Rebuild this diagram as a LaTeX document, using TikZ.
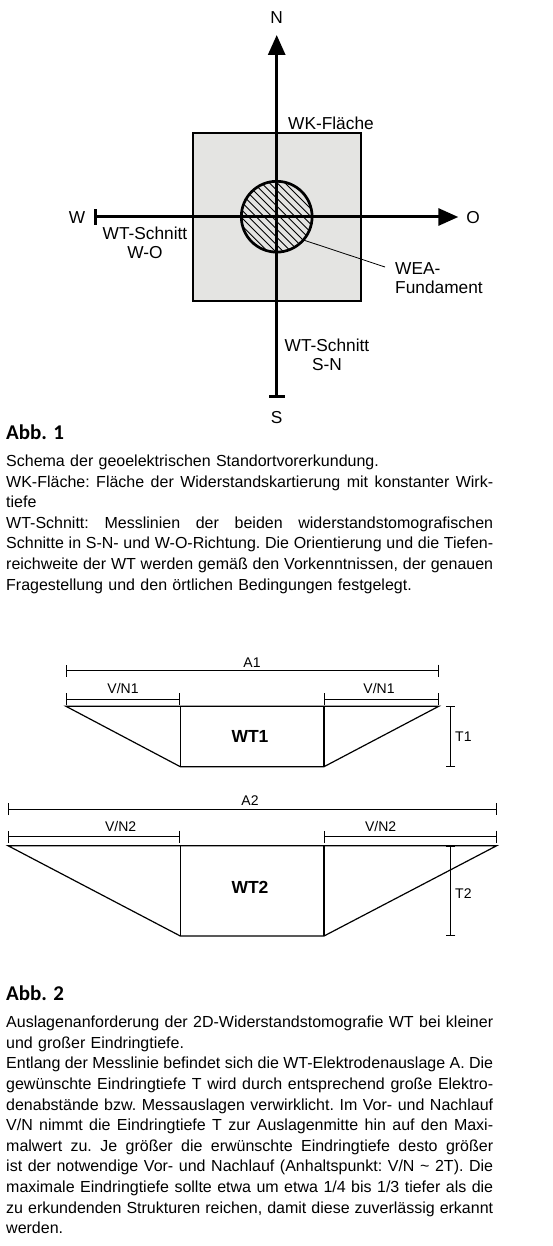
\documentclass[tikz,border=0pt]{standalone}
\usepackage{fontspec}
\setmainfont{Liberation Sans}
\newfontfamily\abbfont{Carlito}
\usetikzlibrary{arrows.meta,calc}
\definecolor{sqgray}{RGB}{228,228,226}
\newcommand\capfont{\fontsize{16}{20.6}\selectfont\frenchspacing}
\newcommand\jline[1]{\leavevmode\hbox to 487pt{\spaceskip=4.45pt plus 1fil minus 1.2pt\relax #1}}
\begin{document}
\begin{tikzpicture}[x=1pt,y=-1pt,
  axis/.style={line width=3pt},
  lbl/.style={font=\fontsize{17.3}{19}\selectfont, inner sep=0pt},
  dimh/.style={line width=1pt, {Bar[width=12pt]}-{Bar[width=12pt]}},
  dimv/.style={line width=1pt, {Bar[width=9.5pt]}-{Bar[width=9.5pt]}},
  dimlbl/.style={font=\fontsize{14}{16}\selectfont, inner sep=0pt},
  outline/.style={line width=1.2pt, line join=miter},
  wtlbl/.style={font=\fontsize{17.5}{19}\selectfont\bfseries, inner sep=0pt},
  abb/.style={font=\abbfont\fontsize{21}{24}\selectfont\bfseries, inner sep=0pt, anchor=base west},
  captext/.style={font=\capfont, inner sep=0pt, anchor=base west, text width=487pt, align=left}
]
\useasboundingbox (0,0) rectangle (552,1246);

% ---------- Abb. 1 ----------
\node[draw, line width=2pt, fill=sqgray, minimum size=168pt, inner sep=0pt] (sq) at (277,217) {};
\node[circle, minimum size=70.8pt, inner sep=0pt] (fund) at (276.7,216.7) {};
\begin{scope}
  \clip (fund.center) circle (35.4pt);
  \foreach \k in {-8,...,8}
    \draw[line width=0.9pt] ($(fund.center)+(\k*7.8-60+3,-60)$) -- ($(fund.center)+(\k*7.8+60+3,60)$);
\end{scope}
\node[circle, draw, line width=2.7pt, minimum size=70.8pt, inner sep=0pt] at (fund.center) {};

\coordinate (sbar) at (276.7,398);
\coordinate (ntip) at (276.7,35);
\coordinate (wbar) at (94,217);
\coordinate (otip) at (458.3,217);
\draw[axis, {Bar[width=16pt]}-{Triangle[length=20pt,width=17pt]}] (sbar) -- (ntip);
\draw[axis, {Bar[width=16pt]}-{Triangle[length=20pt,width=17pt]}] (wbar) -- (otip);
\fill (fund.center) circle (2pt);

\coordinate (leadend) at (385,267);
\draw[line width=0.8pt] (fund.-41.5) -- (leadend);

\node[lbl] (n) at (276.7,18) {N};
\node[lbl] (s) at (276.7,418) {S};
\node[lbl] (w) at (77,218) {W};
\node[lbl] (o) at (473,218) {O};
\node[lbl, anchor=west] (wk) at (288,123) {WK-Fläche};
\node[lbl, align=center] (wtwo) at (145,242.5) {WT-Schnitt\\W-O};
\node[lbl, align=left, anchor=west] (wea) at (395,278.5) {WEA-\\Fundament};
\node[lbl, align=center] (wtsn) at (327,354.5) {WT-Schnitt\\S-N};

\node[abb] (abb1) at (6,439) {Abb. 1};
\node[captext] (cap1) at (6,466.5) {%
Schema der geoelektrischen Standortvorerkundung.\\
\jline{WK-Fläche: Fläche der Widerstandskartierung mit konstanter Wirk-}\\
tiefe\\
\jline{WT-Schnitt: Messlinien der beiden widerstandstomografischen}\\
\jline{Schnitte in S-N- und W-O-Richtung. Die Orientierung und die Tiefen-}\\
\jline{reichweite der WT werden gemäß den Vorkenntnissen, der genauen}\\
Fragestellung und den örtlichen Bedingungen festgelegt.};

% ---------- WT1 ----------
\coordinate (a1s) at (66,670.7);   \coordinate (a1e) at (438.7,670.7);
\coordinate (v1ls) at (66,699.3);  \coordinate (v1le) at (180.3,699.3);
\coordinate (v1rs) at (324,699.3); \coordinate (v1re) at (438.7,699.3);
\coordinate (p1a) at (66,706.3);   \coordinate (p1b) at (438.7,706.3);
\coordinate (p1c) at (324,766.7);  \coordinate (p1d) at (180.3,766.7);
\coordinate (p1e) at (180.3,706.3);\coordinate (p1f) at (324,706.3);
\coordinate (t1s) at (450.7,706.3);\coordinate (t1e) at (450.7,766.7);
\draw[outline] (p1a) -- (p1b) -- (p1c) -- (p1d) -- cycle;
\draw[outline] (p1e) -- (p1d);
\draw[outline] (p1f) -- (p1c);
\draw[dimh] (a1s) -- (a1e);
\draw[dimh] (v1ls) -- (v1le);
\draw[dimh] (v1rs) -- (v1re);
\draw[dimv] (t1s) -- (t1e);
\node[dimlbl] (la1) at (252,662.7) {A1};
\node[dimlbl] (lv1l) at (123,688) {V/N1};
\node[dimlbl] (lv1r) at (379,688) {V/N1};
\node[dimlbl, anchor=west] (lt1) at (455,736.7) {T1};
\node[wtlbl] (wt1) at (250,736.7) {WT1};

% ---------- WT2 ----------
\coordinate (a2s) at (8,809);      \coordinate (a2e) at (496.7,809);
\coordinate (v2ls) at (8,836.7);   \coordinate (v2le) at (180.3,836.7);
\coordinate (v2rs) at (324,836.7); \coordinate (v2re) at (496.7,836.7);
\coordinate (p2a) at (8,845.7);    \coordinate (p2b) at (496.7,845.7);
\coordinate (p2c) at (324,936);    \coordinate (p2d) at (180.3,936);
\coordinate (p2e) at (180.3,845.7);\coordinate (p2f) at (324,845.7);
\coordinate (t2s) at (450.7,845.7);\coordinate (t2e) at (450.7,936);
\draw[outline] (p2a) -- (p2b) -- (p2c) -- (p2d) -- cycle;
\draw[outline] (p2e) -- (p2d);
\draw[outline] (p2f) -- (p2c);
\draw[dimh] (a2s) -- (a2e);
\draw[dimh] (v2ls) -- (v2le);
\draw[dimh] (v2rs) -- (v2re);
\draw[dimv] (t2s) -- (t2e);
\node[dimlbl] (la2) at (250,800.7) {A2};
\node[dimlbl] (lv2l) at (120.7,826.7) {V/N2};
\node[dimlbl] (lv2r) at (380.7,826.7) {V/N2};
\node[dimlbl, anchor=west] (lt2) at (455,893.3) {T2};
\node[wtlbl] (wt2) at (250,887.3) {WT2};

\node[abb] (abb2) at (6,1000) {Abb. 2};
\node[captext] (cap2) at (6,1027.7) {%
\jline{Auslagenanforderung der 2D-Widerstandstomografie WT bei kleiner}\\
und großer Eindringtiefe.\\
\jline{Entlang der Messlinie befindet sich die WT-Elektrodenauslage A. Die}\\
\jline{gewünschte Eindringtiefe T wird durch entsprechend große Elektro-}\\
\jline{denabstände bzw. Messauslagen verwirklicht. Im Vor- und Nachlauf}\\
\jline{V/N nimmt die Eindringtiefe T zur Auslagenmitte hin auf den Maxi-}\\
\jline{malwert zu. Je größer die erwünschte Eindringtiefe desto größer}\\
\jline{ist der notwendige Vor- und Nachlauf (Anhaltspunkt: V/N \textasciitilde{} 2T). Die}\\
\jline{maximale Eindringtiefe sollte etwa um etwa 1/4 bis 1/3 tiefer als die}\\
\jline{zu erkundenden Strukturen reichen, damit diese zuverlässig erkannt}\\
werden.};
\end{tikzpicture}
\end{document}
